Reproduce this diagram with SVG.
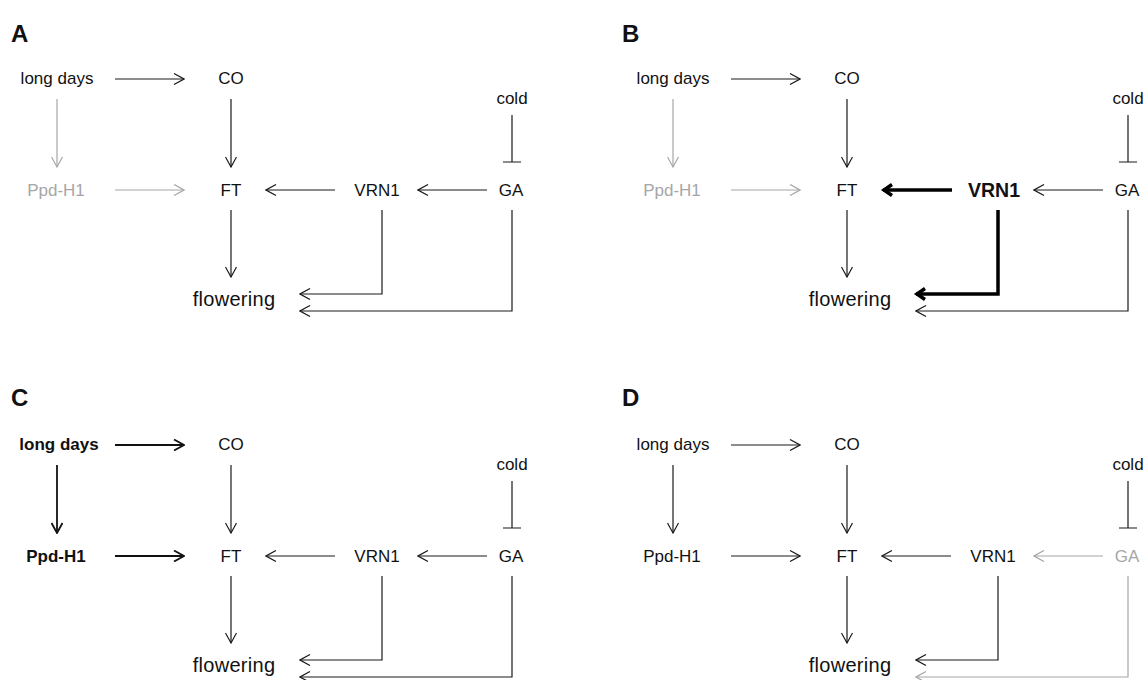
<svg xmlns="http://www.w3.org/2000/svg" width="1148" height="680" viewBox="0 0 1148 680">
<style>
text{font-family:"Liberation Sans",Arial,sans-serif;font-size:17px;fill:#111;text-anchor:middle}
.lbl{font-size:24px;font-weight:bold;text-anchor:start}
.fl{font-size:20px;letter-spacing:0.3px}
.g{fill:#a6a6a6}
.b{font-weight:bold}
.vb{font-weight:bold;font-size:19.5px}
.c{fill:none;stroke:#1a1a1a;stroke-width:1.2;marker-end:url(#ah)}
.cg{fill:none;stroke:#a6a6a6;stroke-width:1.2;marker-end:url(#ahg)}
.cm{fill:none;stroke:#111;stroke-width:1.8;marker-end:url(#ahm)}
.ct{fill:none;stroke:#000;stroke-width:3.5;marker-end:url(#aht)}
.inh{fill:none;stroke:#1a1a1a;stroke-width:1.2}
</style>
<defs>
<marker id="ah" viewBox="0 0 12 12" refX="11" refY="6" markerWidth="12" markerHeight="12" markerUnits="userSpaceOnUse" orient="auto"><path d="M1,0.5 L11,6 L1,11.5" fill="none" stroke="#1a1a1a" stroke-width="1.2"/></marker>
<marker id="ahg" viewBox="0 0 12 12" refX="11" refY="6" markerWidth="12" markerHeight="12" markerUnits="userSpaceOnUse" orient="auto"><path d="M1,0.5 L11,6 L1,11.5" fill="none" stroke="#a6a6a6" stroke-width="1.2"/></marker>
<marker id="ahm" viewBox="0 0 12 12" refX="11" refY="6" markerWidth="12" markerHeight="12" markerUnits="userSpaceOnUse" orient="auto"><path d="M1,0.5 L11,6 L1,11.5" fill="none" stroke="#111" stroke-width="1.8"/></marker>
<marker id="aht" viewBox="0 0 14 14" refX="11" refY="7" markerWidth="14" markerHeight="14" markerUnits="userSpaceOnUse" orient="auto"><path d="M2,1.5 L10,7 L2,12.5" fill="none" stroke="#000" stroke-width="3.5"/></marker>
</defs>

<!-- Panel A -->
<g id="panelA">
<text class="lbl" x="11" y="42">A</text>
<g id="a-longdays"><text x="57" y="84">long days</text></g>
<g id="a-co"><text x="231" y="84">CO</text></g>
<g id="a-cold"><text x="512" y="104">cold</text></g>
<g id="a-ppd"><text class="g" x="56" y="196">Ppd-H1</text></g>
<g id="a-ft"><text x="231" y="196">FT</text></g>
<g id="a-vrn1"><text x="377" y="196">VRN1</text></g>
<g id="a-ga"><text x="511" y="196">GA</text></g>
<g id="a-flowering"><text class="fl" x="234" y="306">flowering</text></g>
<g id="a-connectors">
<path class="c" d="M115,79 H184"/>
<path class="cg" d="M57,99 V167"/>
<path class="c" d="M231,99 V167"/>
<path class="cg" d="M115,190 H184"/>
<path class="c" d="M335,190 H266"/>
<path class="c" d="M487,190 H418"/>
<path class="c" d="M231,210 V277"/>
<path class="c" d="M382,210 V294 H300"/>
<path class="c" d="M512,210 V311 H300"/>
<path class="inh" d="M512,115 V162 M503,162 H521"/>
</g>
</g>

<!-- Panel B -->
<g id="panelB" transform="translate(616,0)">
<text class="lbl" x="6" y="42">B</text>
<g id="b-longdays"><text x="57" y="84">long days</text></g>
<g id="b-co"><text x="231" y="84">CO</text></g>
<g id="b-cold"><text x="512" y="104">cold</text></g>
<g id="b-ppd"><text class="g" x="56" y="196">Ppd-H1</text></g>
<g id="b-ft"><text x="231" y="196">FT</text></g>
<g id="b-vrn1"><text class="vb" x="378" y="197">VRN1</text></g>
<g id="b-ga"><text x="511" y="196">GA</text></g>
<g id="b-flowering"><text class="fl" x="234" y="306">flowering</text></g>
<g id="b-connectors">
<path class="c" d="M115,79 H184"/>
<path class="cg" d="M57,99 V167"/>
<path class="c" d="M231,99 V167"/>
<path class="cg" d="M115,190 H184"/>
<path class="ct" d="M336,190 H267"/>
<path class="c" d="M487,190 H418"/>
<path class="c" d="M231,210 V277"/>
<path class="ct" d="M382,210 V294 H300" stroke-linejoin="miter"/>
<path class="c" d="M512,210 V311 H300"/>
<path class="inh" d="M512,115 V162 M503,162 H521"/>
</g>
</g>

<!-- Panel C -->
<g id="panelC" transform="translate(0,366)">
<text class="lbl" x="11" y="40">C</text>
<g id="c-longdays"><text class="b" x="59" y="84">long days</text></g>
<g id="c-co"><text x="231" y="84">CO</text></g>
<g id="c-cold"><text x="512" y="104">cold</text></g>
<g id="c-ppd"><text class="b" x="56" y="196">Ppd-H1</text></g>
<g id="c-ft"><text x="231" y="196">FT</text></g>
<g id="c-vrn1"><text x="377" y="196">VRN1</text></g>
<g id="c-ga"><text x="511" y="196">GA</text></g>
<g id="c-flowering"><text class="fl" x="234" y="306">flowering</text></g>
<g id="c-connectors">
<path class="cm" d="M115,79 H184"/>
<path class="cm" d="M57,99 V167"/>
<path class="c" d="M231,99 V167"/>
<path class="cm" d="M115,190 H184"/>
<path class="c" d="M335,190 H266"/>
<path class="c" d="M487,190 H418"/>
<path class="c" d="M231,210 V277"/>
<path class="c" d="M382,210 V294 H300"/>
<path class="c" d="M512,210 V311 H300"/>
<path class="inh" d="M512,115 V162 M503,162 H521"/>
</g>
</g>

<!-- Panel D -->
<g id="panelD" transform="translate(616,366)">
<text class="lbl" x="6" y="40">D</text>
<g id="d-longdays"><text x="57" y="84">long days</text></g>
<g id="d-co"><text x="231" y="84">CO</text></g>
<g id="d-cold"><text x="512" y="104">cold</text></g>
<g id="d-ppd"><text x="56" y="196">Ppd-H1</text></g>
<g id="d-ft"><text x="231" y="196">FT</text></g>
<g id="d-vrn1"><text x="377" y="196">VRN1</text></g>
<g id="d-ga"><text class="g" x="511" y="196">GA</text></g>
<g id="d-flowering"><text class="fl" x="234" y="306">flowering</text></g>
<g id="d-connectors">
<path class="c" d="M115,79 H184"/>
<path class="c" d="M57,99 V167"/>
<path class="c" d="M231,99 V167"/>
<path class="c" d="M115,190 H184"/>
<path class="c" d="M335,190 H266"/>
<path class="cg" d="M487,190 H418"/>
<path class="c" d="M231,210 V277"/>
<path class="c" d="M382,210 V294 H300"/>
<path class="cg" d="M512,210 V311 H300"/>
<path class="inh" d="M512,115 V162 M503,162 H521"/>
</g>
</g>
</svg>
